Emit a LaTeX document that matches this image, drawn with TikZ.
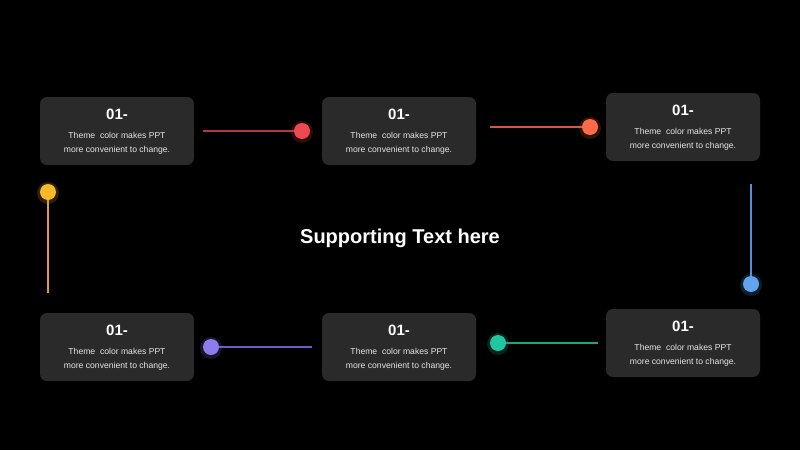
\documentclass[tikz,border=0pt]{standalone}
\usepackage{fontspec}
\setmainfont{Liberation Sans}
\begin{document}
\begin{tikzpicture}[x=1pt,y=-1pt,
  card/.style={fill=cardgray, rounded corners=7pt, minimum width=154pt, minimum height=68pt, inner sep=0pt},
  dot/.style={circle, fill=#1, minimum size=16pt, inner sep=0pt},
  glow/.style={fill=#1, opacity=0.18},
  link/.style={draw=#1, line width=1.3pt}]
\definecolor{cardgray}{HTML}{2A2A2A}
\definecolor{cred}{HTML}{EC4A50}
\definecolor{corange}{HTML}{FF6B48}
\definecolor{cyellow}{HTML}{F7B928}
\definecolor{cblue}{HTML}{62A3EE}
\definecolor{cpurple}{HTML}{8C7CEE}
\definecolor{cteal}{HTML}{1FC8A0}
\definecolor{lred}{HTML}{B8363B}
\definecolor{lorange}{HTML}{D8583A}
\definecolor{lyellow}{HTML}{D9A22A}
\definecolor{lblue}{HTML}{5A8FD8}
\definecolor{lpurple}{HTML}{6A5FC0}
\definecolor{lteal}{HTML}{1AA584}
\definecolor{bodytext}{HTML}{E6E6E6}
\fill[black] (0,0) rectangle (800,450);
\useasboundingbox (0,0) rectangle (800,450);
\newcommand{\cardtext}[2]{%
  \node[font=\fontsize{15}{17}\selectfont\bfseries, text=white] at (#1,#2-17) {01-};
  \node[font=\fontsize{8.6}{10}\selectfont, text=bodytext] at (#1,#2+4) {Theme\ \ color makes PPT};
  \node[font=\fontsize{8.6}{10}\selectfont, text=bodytext] at (#1,#2+19) {more convenient to change.};}
% cards
\node[card] (c1) at (117,131) {};
\node[card] (c2) at (399,131) {};
\node[card] (c3) at (683,127) {};
\node[card] (c4) at (117,347) {};
\node[card] (c5) at (399,347) {};
\node[card] (c6) at (683,343) {};
\cardtext{117}{131}
\cardtext{399}{131}
\cardtext{683}{127}
\cardtext{117}{347}
\cardtext{399}{347}
\cardtext{683}{343}
% connectors
\coordinate (e1) at (203,131);
\coordinate (e2) at (490,127);
\coordinate (e3) at (48,293);
\coordinate (e4) at (751,184);
\coordinate (e5) at (312,347);
\coordinate (e6) at (598,343);
% dots
\fill[glow=cred] (302,132) circle (11);
\fill[glow=corange] (590,128) circle (11);
\fill[glow=cyellow] (48,193) circle (11);
\fill[glow=cblue] (751,285) circle (11);
\fill[glow=cpurple] (211,348) circle (11);
\fill[glow=cteal] (498,344) circle (11);
\node[dot=cred] (d1) at (302,131) {};
\node[dot=corange] (d2) at (590,127) {};
\node[dot=cyellow] (d3) at (48,192) {};
\node[dot=cblue] (d4) at (751,284) {};
\node[dot=cpurple] (d5) at (211,347) {};
\node[dot=cteal] (d6) at (498,343) {};
\draw[link=lred] (e1) -- (d1.west);
\draw[link=lorange] (e2) -- (d2.west);
\draw[link=lyellow] (e3) -- (d3.south);
\draw[link=lblue] (e4) -- (d4.north);
\draw[link=lpurple] (e5) -- (d5.east);
\draw[link=lteal] (e6) -- (d6.east);
% title
\node[font=\fontsize{20}{24}\selectfont\bfseries, text=white] (title) at (400,238) {Supporting Text here};
\end{tikzpicture}
\end{document}
